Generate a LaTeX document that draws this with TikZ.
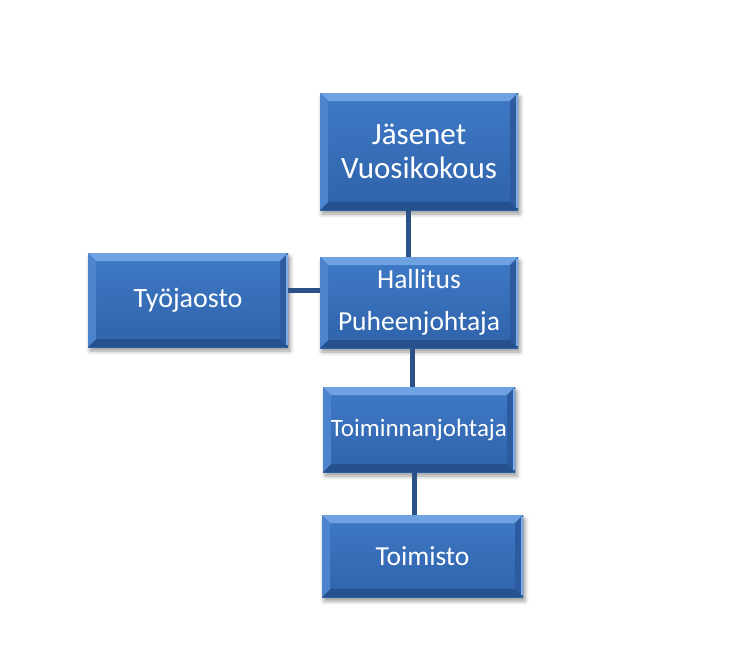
\documentclass[tikz,border=0pt]{standalone}
\usepackage{fontspec}
\setmainfont{Carlito}
\usetikzlibrary{shadows.blur}
\definecolor{faceTop}{HTML}{3F79C6}
\definecolor{faceBot}{HTML}{2F63AA}
\definecolor{bevT}{HTML}{6FA2E0}
\definecolor{bevL}{HTML}{4C84CE}
\definecolor{bevR}{HTML}{2C5B9F}
\definecolor{bevB}{HTML}{25518F}
\definecolor{edgeR}{HTML}{7FAEE6}
\definecolor{linkC}{HTML}{2B5189}
\tikzset{
  orgbox/.style={rectangle, inner sep=0pt, text=white, align=center,
    top color=faceTop, bottom color=faceBot,
    blur shadow={shadow xshift=2pt, shadow yshift=-4pt, shadow blur radius=4pt, shadow opacity=40},
    path picture={
      \fill[bevT] (path picture bounding box.north west) -- (path picture bounding box.north east)
        -- ++(-8pt,-8pt) -- ([xshift=8pt,yshift=-8pt]path picture bounding box.north west) -- cycle;
      \fill[bevB] (path picture bounding box.south west) -- (path picture bounding box.south east)
        -- ++(-8pt,8pt) -- ([xshift=8pt,yshift=8pt]path picture bounding box.south west) -- cycle;
      \fill[bevL] (path picture bounding box.north west) -- ++(8pt,-8pt)
        -- ([xshift=8pt,yshift=8pt]path picture bounding box.south west) -- (path picture bounding box.south west) -- cycle;
      \fill[bevR] (path picture bounding box.north east) -- ++(-8pt,-8pt)
        -- ([xshift=-8pt,yshift=8pt]path picture bounding box.south east) -- (path picture bounding box.south east) -- cycle;
      \fill[edgeR] ([xshift=-2pt,yshift=-2pt]path picture bounding box.north east) rectangle
        ([yshift=2pt]path picture bounding box.south east);
    }},
  link/.style={line width=5pt, draw=linkC}
}
\begin{document}
\begin{tikzpicture}[x=1pt,y=1pt]
\useasboundingbox (0,0) rectangle (741,-645);
\node[orgbox, minimum width=198pt, minimum height=117pt, font=\fontsize{31}{34}\selectfont] (jas) at (419,-151.5) {Jäsenet\\Vuosikokous};
\node[orgbox, minimum width=198pt, minimum height=91pt, font=\fontsize{27.5}{42}\selectfont] (hal) at (419,-302.5) {Hallitus\\Puheenjohtaja};
\node[orgbox, minimum width=200pt, minimum height=94pt, font=\fontsize{28}{32}\selectfont] (tyo) at (188,-300) {Työjaosto};
\node[orgbox, minimum width=192pt, minimum height=85pt, font=\fontsize{25}{28}\selectfont] (toj) at (419,-429.5) {Toiminnanjohtaja};
\node[orgbox, minimum width=201pt, minimum height=82pt, font=\fontsize{27.5}{30}\selectfont] (tom) at (422.5,-556) {Toimisto};
\draw[link] ([xshift=-11pt]jas.south) -- ([xshift=-11pt]jas.south |- hal.north);
\draw[link] ([xshift=-7pt]hal.south) -- ([xshift=-7pt]hal.south |- toj.north);
\draw[link] ([xshift=-5pt]toj.south) -- ([xshift=-5pt]toj.south |- tom.north);
\draw[link] ([yshift=10pt]tyo.east) -- ([yshift=10pt]tyo.east -| hal.west);
\end{tikzpicture}
\end{document}
